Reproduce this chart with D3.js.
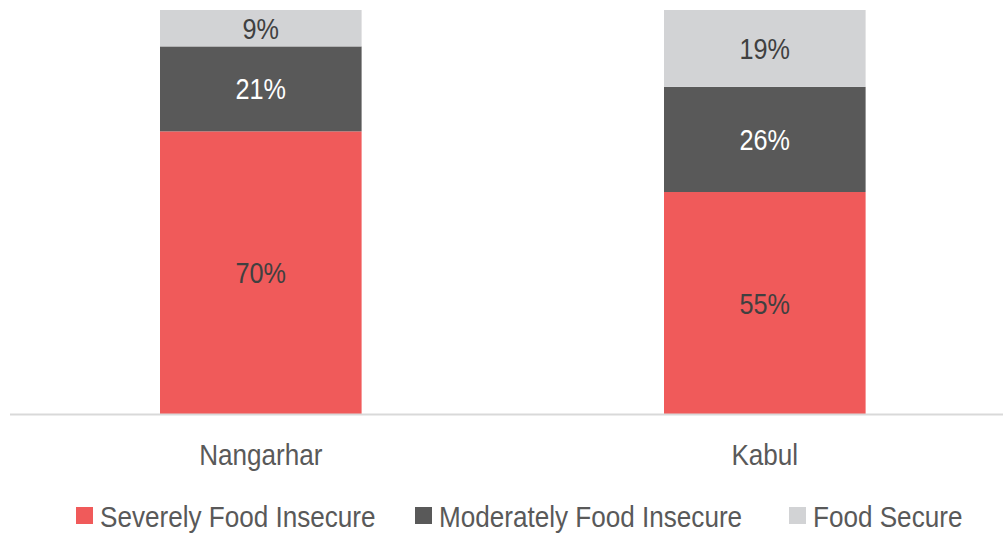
<!DOCTYPE html>
<html><head><meta charset="utf-8">
<script src="https://cdn.jsdelivr.net/npm/d3@7"></script>
<style>
body{margin:0;background:#fff;}
text{font-family:"Liberation Sans Narrow","Arial Narrow","Liberation Sans",Arial,sans-serif;}
</style></head>
<body><svg id="c" width="1003" height="534"></svg>
<script>
const categories = ["Nangarhar", "Kabul"];
const seriesNames = ["Severely Food Insecure", "Moderately Food Insecure", "Food Secure"];
const severe = [70, 55];
const moderate = [21, 26];
const secure = [9, 19];
const colors = ["#F05A5A", "#595959", "#D2D3D5"];
const labelColors = ["#404040", "#FFFFFF", "#404040"];

const SX = 0.87; // horizontal condensing to mimic a narrow face
const svg = d3.select("#c");
const x = d3.scaleBand().domain(categories).range([8.8, 1016.8]).paddingInner(0.6).paddingOuter(0.3);
const y = d3.scaleLinear().domain([0, 100]).range([414.5, 10]);

const rows = categories.map((c, i) => ({cat: c, s0: severe[i], s1: moderate[i], s2: secure[i]}));
const stack = d3.stack().keys(["s0", "s1", "s2"]);
const layers = stack(rows);

layers.forEach((layer, li) => {
  const g = svg.append("g");
  g.selectAll("rect").data(layer).join("rect")
    .attr("x", d => x(d.data.cat))
    .attr("width", x.bandwidth())
    .attr("y", d => y(d[1]))
    .attr("height", d => y(d[0]) - y(d[1]))
    .attr("fill", colors[li]);
  g.selectAll("text").data(layer).join("text")
    .attr("transform", d => `translate(${x(d.data.cat) + x.bandwidth() / 2},${(y(d[0]) + y(d[1])) / 2}) scale(${SX},1)`)
    .attr("dy", "0.36em")
    .attr("text-anchor", "middle")
    .attr("font-size", 29)
    .attr("fill", labelColors[li])
    .text(d => (d[1] - d[0]) + "%");
});

// axis
const axis = svg.append("g").attr("transform", `translate(0,${y(0)})`)
  .call(d3.axisBottom(x).tickSize(0).tickPadding(29));
axis.select(".domain").attr("stroke", "#D9D9D9").attr("stroke-width", 2).attr("d", `M10,0H1003`);
axis.selectAll(".tick text").attr("font-size", 30).attr("fill", "#595959")
  .attr("transform", `scale(${SX},1)`)
  .style("font-family", '"Liberation Sans Narrow","Arial Narrow","Liberation Sans",Arial,sans-serif');

// legend
const legendX = [76, 415, 789];
const lg = svg.append("g");
seriesNames.forEach((n, i) => {
  lg.append("rect").attr("x", legendX[i]).attr("y", 507).attr("width", 17).attr("height", 17).attr("fill", colors[i]);
  lg.append("text").attr("transform", `translate(${legendX[i] + 24},516) scale(${SX},1)`).attr("dy", "0.36em")
    .attr("font-size", 30).attr("fill", "#595959").text(n);
});
</script></body></html>
